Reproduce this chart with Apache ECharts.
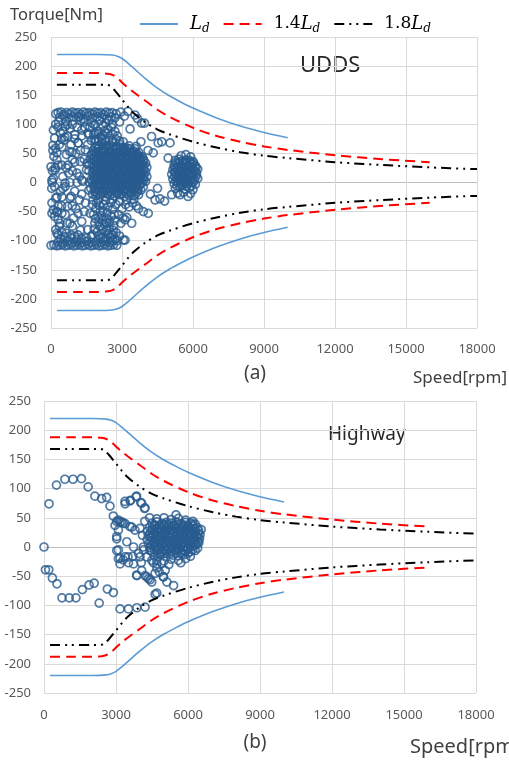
<!DOCTYPE html>
<html>
<head>
<meta charset="utf-8">
<script src="https://cdn.jsdelivr.net/npm/echarts@6/dist/echarts.min.js"></script>
<style>
html,body{margin:0;padding:0;background:#fff;}
#c{width:509px;height:761px;}
</style>
</head>
<body>
<div id="c"></div>
<script>
// ---- tick labels / axes ----
const speedTicks = [0, 3000, 6000, 9000, 12000, 15000, 18000];
const torqueTicks = [-250, -200, -150, -100, -50, 0, 50, 100, 150, 200, 250];

// ---- torque envelope curves ----
const ldSpeed = [250, 1000, 2000, 2600, 2800, 3000, 3250, 3500, 4000, 4500, 5000, 5500, 6000, 7000, 8000, 9000, 10000];
const ldTorque = [220, 220, 220, 219, 217, 213, 205, 196, 178, 162, 149, 138, 128, 111, 97, 86, 77];
const ldTorqueNeg = [-220, -220, -220, -219, -217, -213, -205, -196, -178, -162, -149, -138, -128, -111, -97, -86, -77];

const ld14Speed = [250, 1000, 2000, 2400, 2600, 2800, 3000, 3250, 3500, 4000, 4500, 5000, 6000, 7000, 8000, 9000, 10000, 12000, 14000, 16000];
const ld14Torque = [188, 188, 188, 187, 185, 180, 172, 163, 155, 140, 125, 113, 94, 80, 70, 62, 56, 47, 40, 35];
const ld14TorqueNeg = [-188, -188, -188, -187, -185, -180, -172, -163, -155, -140, -125, -113, -94, -80, -70, -62, -56, -47, -40, -35];

const ld18Speed = [250, 1000, 2000, 2300, 2500, 2700, 3000, 3250, 3500, 4000, 4500, 5000, 6000, 7000, 8000, 9000, 10000, 12000, 14000, 16000, 18000];
const ld18Torque = [168, 168, 168, 168, 166, 158, 143, 130, 119, 103, 91, 83, 70, 60, 52, 46, 42, 35, 30, 26, 23];
const ld18TorqueNeg = [-168, -168, -168, -168, -166, -158, -143, -130, -119, -103, -91, -83, -70, -60, -52, -46, -42, -35, -30, -26, -23];

// ---- UDDS operating points [speed rpm, torque Nm] ----
const uddsPoints = [
 // top band
 [200,118],[300,120],[420,121],[540,117],[660,120],[780,118],[900,121],[1020,119],[1140,120],[1260,117],[1380,121],[1500,119],[1620,120],[1740,118],[1860,121],[1980,119],[2100,120],[2220,117],[2340,121],[2460,119],[2580,120],[2750,118],[2950,121],[3250,122],
 [360,112],[560,114],[760,111],[960,113],[1160,112],[1360,110],[1560,114],[1760,111],[1960,113],[2160,112],[2360,110],[2560,113],
 [320,104],[620,105],[900,100],[1250,106],[1700,103],[2050,106],[2450,107],[2700,111],[2900,104],[3100,114],
 [300,95],[800,93],[1430,95],[1860,99],[590,78],[1010,82],[1560,85],[80,64],[460,61],[1140,68],[250,51],[890,52],[0,27],[170,21],[720,30],[1100,16],[1520,33],[1310,4],[590,-1],[40,4],
 // left scatter
 [150,76],[200,59],[120,45],[250,39],[180,25],[100,7],[50,0],[150,-7],[200,-27],[100,-47],[250,-50],[150,-58],[300,-64],[200,-81],[300,-90],
 [600,96],[700,79],[550,73],[800,53],[650,48],[900,39],[750,16],[600,-7],[850,-24],[700,-41],[950,-61],[800,-70],[650,-87],[1000,-93],
 [1200,113],[1400,105],[1300,90],[1600,82],[1150,68],[1450,56],[1700,48],[1250,36],[1500,22],[1350,2],[1600,-13],[1200,-30],[1450,-35],[1650,-53],[1300,-67],[1550,-81],[1750,-90],[1100,-98],
 [400,85],[350,65],[450,30],[500,10],[400,-15],[450,-40],[350,-75],[1000,75],[1050,50],[900,20],[1100,0],[1000,-15],[1050,-45],[900,-75],[1400,-50],[1500,-95],[1650,95],[1800,100],[1850,85],[1600,30],[1700,5],[1750,-20],[60,20],[30,-10],[80,55],[40,-35],
 [250,-25],[460,-25],[800,-27],[40,-53],[250,-51],[460,-53],[1140,-53],[380,-70],[680,-70],[1140,-90],[250,-87],[590,-93],
 [100,90],[500,88],[700,100],[1100,95],[1300,80],[200,100],[450,75],[850,65],[1250,55],[1550,65],[300,30],[650,25],[1000,35],[1400,40],[1200,10],[800,0],[500,-10],[300,-40],[900,-40],[1300,-20],[600,-55],[1250,-82],[850,-90],[450,-85],
 // bottom band
 [0,-108],[120,-107],[240,-109],[360,-108],[480,-107],[600,-109],[720,-108],[840,-107],[960,-109],[1080,-108],[1200,-107],[1320,-109],[1440,-108],[1560,-107],[1680,-109],[1800,-108],[1920,-107],[2040,-109],[2160,-108],[2280,-107],[2400,-109],[2520,-108],[2640,-107],[2780,-108],
 [300,-102],[500,-103],[700,-101],[900,-103],[1100,-102],[1300,-103],[1500,-101],[1700,-103],[1900,-102],[2100,-103],[2300,-101],[2500,-103],
 [400,-96],[800,-94],[1300,-97],[1700,-93],[2200,-95],[3130,-99],
 // main cluster
 [1800,82],[2000,84],[2200,81],[2400,85],[2600,83],[2800,80],
 [1700,72],[1850,74],[2000,71],[2150,75],[2300,73],[2450,76],[2600,72],[2750,74],[2900,71],[3050,70],
 [1950,63],[2150,66],[2300,70],[2450,64],[2600,68],[2750,62],[2900,66],[3100,60],[3300,63],[3550,58],
 [1800,55],[2000,58],[2150,56],[2300,59],[2450,55],[2600,57],[2750,58],[2900,54],[3050,57],[3200,55],[3350,58],[3500,54],[3700,52],
 [1750,48],[1900,50],[2050,47],[2200,51],[2350,48],[2500,50],[2650,47],[2800,51],[2950,48],[3100,50],[3250,47],[3400,51],[3550,48],[3700,46],[3850,44],
 [1800,41],[1950,43],[2100,40],[2250,42],[2400,41],[2550,43],[2700,40],[2850,42],[3000,41],[3150,43],[3300,40],[3450,42],[3600,41],[3750,39],[3900,40],
 [1750,33],[1900,35],[2050,32],[2200,34],[2350,33],[2500,35],[2650,32],[2800,34],[2950,33],[3100,35],[3250,32],[3400,34],[3550,33],[3700,35],[3850,32],[4000,33],
 [1800,25],[1950,27],[2100,24],[2250,26],[2400,25],[2550,27],[2700,24],[2850,26],[3000,25],[3150,27],[3300,24],[3450,26],[3600,25],[3750,27],[3900,24],[4050,26],
 [1750,17],[1900,19],[2050,16],[2200,18],[2350,17],[2500,19],[2650,16],[2800,18],[2950,17],[3100,19],[3250,16],[3400,18],[3550,17],[3700,19],[3850,16],[4000,18],
 [1800,9],[1950,11],[2100,8],[2250,10],[2400,9],[2550,11],[2700,8],[2850,10],[3000,9],[3150,11],[3300,8],[3450,10],[3600,9],[3750,11],[3900,8],[4050,10],
 [1750,1],[1900,3],[2050,0],[2200,2],[2350,1],[2500,3],[2650,0],[2800,2],[2950,1],[3100,3],[3250,0],[3400,2],[3550,1],[3700,3],[3850,0],[4000,2],
 [1800,-7],[1950,-5],[2100,-8],[2250,-6],[2400,-7],[2550,-5],[2700,-8],[2850,-6],[3000,-7],[3150,-5],[3300,-8],[3450,-6],[3600,-7],[3750,-5],[3900,-8],
 [1850,-15],[2000,-13],[2150,-16],[2300,-14],[2450,-15],[2600,-13],[2750,-16],[2900,-14],[3050,-15],[3200,-13],[3350,-16],[3500,-14],[3650,-15],[3800,-13],
 [1900,-23],[2100,-21],[2300,-24],[2500,-22],[2700,-23],[2900,-21],[3100,-24],[3300,-22],[3500,-23],[3700,-21],
 [2000,-30],[2300,-31],[2600,-29],[2900,-32],[3200,-30],[3500,-29],
 [1900,72],[2100,78],[2250,88],[2400,92],[2550,95],[2700,88],[2200,97],[2600,100],[2300,102],[2000,88],[1600,20],[1650,40],[1620,0],[1680,-10],
 // main cluster, in-between points
 [1875,60],[2025,61],[2175,60],[2325,62],[2475,60],[2625,61],[2775,59],[2925,61],[3075,60],[3225,59],
 [1825,52],[1975,53],[2125,52],[2275,54],[2425,52],[2575,53],[2725,51],[2875,53],[3025,52],[3175,53],[3325,52],[3475,51],[3625,50],
 [1825,45],[1975,44],[2125,46],[2275,45],[2425,44],[2575,46],[2725,45],[2875,44],[3025,46],[3175,45],[3325,44],[3475,46],[3625,45],[3775,43],
 [1825,37],[1975,38],[2125,37],[2275,39],[2425,37],[2575,38],[2725,36],[2875,38],[3025,37],[3175,38],[3325,37],[3475,38],[3625,37],[3775,36],[3925,37],
 [1825,29],[1975,30],[2125,29],[2275,31],[2425,29],[2575,30],[2725,28],[2875,30],[3025,29],[3175,30],[3325,29],[3475,30],[3625,29],[3775,30],[3925,29],
 [1825,21],[1975,22],[2125,21],[2275,20],[2425,22],[2575,21],[2725,20],[2875,22],[3025,21],[3175,20],[3325,22],[3475,21],[3625,20],[3775,22],[3925,21],
 [1825,13],[1975,14],[2125,12],[2275,13],[2425,14],[2575,12],[2725,13],[2875,14],[3025,12],[3175,13],[3325,14],[3475,12],[3625,13],[3775,14],[3925,12],
 [1825,5],[1975,6],[2125,4],[2275,5],[2425,6],[2575,4],[2725,5],[2875,6],[3025,4],[3175,5],[3325,6],[3475,4],[3625,5],[3775,6],[3925,4],
 [1825,-3],[1975,-2],[2125,-4],[2275,-3],[2425,-2],[2575,-4],[2725,-3],[2875,-2],[3025,-4],[3175,-3],[3325,-2],[3475,-4],[3625,-3],[3775,-2],
 [1875,-11],[2025,-10],[2175,-12],[2325,-11],[2475,-10],[2625,-12],[2775,-11],[2925,-10],[3075,-12],[3225,-11],[3375,-10],[3525,-12],[3675,-11],
 [1975,-19],[2175,-18],[2375,-20],[2575,-19],[2775,-18],[2975,-20],[3175,-19],[3375,-18],[3575,-20],
 // tail below main cluster
 [1750,-38],[1900,-45],[2050,-40],[2200,-48],[2400,-42],[2600,-46],[2750,-38],[1800,-55],[2000,-60],[2150,-57],[2350,-62],[2550,-58],[2700,-65],[1850,-70],[2050,-75],[2250,-72],[2450,-78],[2650,-74],[1950,-85],[2150,-88],[2350,-82],[2550,-90],[2750,-86],[2100,-95],[2300,-97],[2500,-95],[2700,-98],[2900,-92],
 [1775,-30],[1925,-35],[2075,-50],[2225,-38],[2375,-52],[2525,-35],[2675,-55],[1875,-62],[2025,-68],[2175,-65],[2325,-70],[2475,-68],[2625,-82],[1825,-80],[2000,-92],[2200,-80],[2400,-88],[2600,-100],[2800,-100],
 [2850,-55],[3000,-45],[3150,-38],[3300,-42],[3450,-35],[3600,-40],[2950,-70],[3200,-60],[3130,-64],[3060,-99],[2630,-90],[3410,-70],[3900,-50],[4110,-53],[3700,-45],[3040,-61],
 // sparse upper right
 [3550,116],[3650,110],[3830,102],[3340,92],[3950,102],[4250,79],[4530,68],[4680,70],[4320,51],[5030,68],[3600,62],[4950,42],[3800,70],[4100,55],
 // sparse between clusters
 [4400,-30],[4600,-28],[4800,-32],[5100,-21],[5450,-21],[5790,-24],[4200,-20],[4500,-10],
 // right cluster
 [5500,46],[5700,48],[5900,44],
 [5250,38],[5400,40],[5550,37],[5700,39],[5850,38],[6000,36],
 [5200,30],[5350,32],[5500,29],[5650,31],[5800,30],[5950,32],[6100,29],
 [5150,22],[5300,24],[5450,21],[5600,23],[5750,22],[5900,24],[6050,21],[6200,23],
 [5100,14],[5250,16],[5400,13],[5550,15],[5700,14],[5850,16],[6000,13],[6150,15],
 [5150,6],[5300,8],[5450,5],[5600,7],[5750,6],[5900,8],[6050,5],[6200,7],
 [5200,-2],[5350,0],[5500,-3],[5650,-1],[5800,-2],[5950,0],[6100,-3],
 [5250,-10],[5450,-8],[5650,-11],[5850,-9],[6000,-12],
 [5350,-18],[5600,-17],[5900,-19],
 [5275,34],[5425,35],[5575,33],[5725,34],[5875,35],[6025,33],
 [5225,26],[5375,27],[5525,25],[5675,26],[5825,27],[5975,25],[6125,26],
 [5225,18],[5375,19],[5525,17],[5675,18],[5825,19],[5975,17],[6125,18],
 [5225,10],[5375,11],[5525,9],[5675,10],[5825,11],[5975,9],[6125,10],
 [5275,2],[5425,3],[5575,1],[5725,2],[5875,3],[6025,1],
 [5325,-6],[5525,-5],[5725,-7],[5925,-6]
];

// ---- Highway operating points [speed rpm, torque Nm] ----
const highwayPoints = [
 [0,0],[210,74],[520,106],[870,116],[1210,116],[1560,117],[1840,103],[2120,87],[2400,83],[2610,85],[2750,70],[2890,53],[3030,44],[3380,74],[3590,79],[3840,86],[4030,76],[4190,66],
 [60,-39],[200,-39],[350,-53],[540,-63],[750,-87],[1050,-87],[1330,-87],[1600,-73],[1880,-65],[2090,-62],[2300,-96],[2640,-72],[2890,-78],[3170,-106],[3520,-106],[3870,-104],[4210,-103],[4630,-81],
 [3030,-6],[3100,-20],[3170,-29],[3380,-17],[3520,-27],[3730,-29],[3870,-49],[4070,-40],[4210,-49],[4350,-54],[4490,-60],[4630,-45],[4810,-43],[4980,-51],[5120,-60],[5400,-66],[4490,-23],[4700,-29],
 [3030,14],[3100,29],[2960,37],[3170,43],[3380,40],[3660,34],[3450,9],[3730,0],[3940,-11],[4140,0],[4280,-17],[4420,-6],
 [3100,46],[3240,43],[3300,41],[3580,35],[3790,29],[4000,32],[3030,18],[3100,-5],[3170,-19],[3300,-22],[3500,-17],[3700,-16],[4000,-17],[3860,-48],[4050,-27],[4280,-51],[4420,-56],[4560,-27],[4700,-36],[4970,-51],[5050,-40],[4700,-79],[3375,78],[3600,80],[3860,87],[4070,75],[4210,67],
 // dense blob
 [4700,48],[5000,50],[5300,47],[5600,49],[5900,46],[6200,44],
 [4500,41],[4700,43],[4900,40],[5100,42],[5300,41],[5500,43],[5700,40],[5900,42],[6100,41],[6300,39],
 [4400,34],[4600,36],[4800,33],[5000,35],[5200,34],[5400,36],[5600,33],[5800,35],[6000,34],[6200,36],[6400,33],
 [4300,27],[4500,29],[4700,26],[4900,28],[5100,27],[5300,29],[5500,26],[5700,28],[5900,27],[6100,29],[6300,26],[6450,28],
 [4350,20],[4550,22],[4750,19],[4950,21],[5150,20],[5350,22],[5550,19],[5750,21],[5950,20],[6150,22],[6350,19],[6500,21],
 [4300,13],[4500,15],[4700,12],[4900,14],[5100,13],[5300,15],[5500,12],[5700,14],[5900,13],[6100,15],[6300,12],[6480,14],
 [4350,6],[4550,8],[4750,5],[4950,7],[5150,6],[5350,8],[5550,5],[5750,7],[5950,6],[6150,8],[6350,5],[6450,7],
 [4400,-1],[4600,1],[4800,-2],[5000,0],[5200,-1],[5400,1],[5600,-2],[5800,0],[6000,-1],[6200,1],[6400,-2],
 [4500,-8],[4700,-6],[4900,-9],[5100,-7],[5300,-8],[5500,-6],[5700,-9],[5900,-7],[6100,-8],[6300,-6],
 [4600,-15],[4850,-13],[5100,-16],[5350,-14],[5600,-15],[5850,-13],[6100,-16],
 [4700,-22],[5000,-24],[5300,-21],[5600,-23],[5900,-20],
 [5500,55],[4400,50],[4200,44],[4100,20],[4150,-5],[6550,30],[5200,-30],[4900,-28],[5700,-27],
 // blob, in-between points
 [4600,38],[4800,37],[5000,39],[5200,38],[5400,37],[5600,39],[5800,38],[6000,37],[6200,39],
 [4500,31],[4700,30],[4900,32],[5100,31],[5300,30],[5500,32],[5700,31],[5900,30],[6100,32],[6300,31],
 [4450,24],[4650,23],[4850,25],[5050,24],[5250,23],[5450,25],[5650,24],[5850,23],[6050,25],[6250,24],[6420,23],
 [4450,17],[4650,16],[4850,18],[5050,17],[5250,16],[5450,18],[5650,17],[5850,16],[6050,18],[6250,17],[6420,16],
 [4450,10],[4650,9],[4850,11],[5050,10],[5250,9],[5450,11],[5650,10],[5850,9],[6050,11],[6250,10],[6420,9],
 [4500,3],[4700,2],[4900,4],[5100,3],[5300,2],[5500,4],[5700,3],[5900,2],[6100,4],[6300,3],
 [4600,-5],[4800,-4],[5000,-5],[5200,-4],[5400,-5],[5600,-4],[5800,-5],[6000,-4],[6200,-5],
 [4750,-12],[5000,-11],[5250,-12],[5500,-11],[5750,-12],[6000,-11]
];

const chartTitles = ['UDDS', 'Highway'];
const panelLabels = ['(a)', '(b)'];

// ---- build ----
const pairs = (xs, ys) => xs.map((x, i) => [x, ys[i]]);
const FONT = 'Noto Sans';
const SCATTER = '#285B8E';
const lineDefs = [
  {name: 'Ld', sp: ldSpeed, pos: ldTorque, neg: ldTorqueNeg, style: {color: '#5B9BD5', width: 1.6, type: 'solid'}},
  {name: '1.4Ld', sp: ld14Speed, pos: ld14Torque, neg: ld14TorqueNeg, style: {color: '#FF0000', width: 2, type: [10, 6]}},
  {name: '1.8Ld', sp: ld18Speed, pos: ld18Torque, neg: ld18TorqueNeg, style: {color: '#000000', width: 2, type: [10, 5, 2, 5, 2, 5]}}
];

const splitColors = torqueTicks.map(t => t === 0 ? '#BFBFBF' : '#D9D9D9');

function xAxisFor(i, margin) {
  return {
    type: 'value', gridIndex: i, min: speedTicks[0], max: speedTicks[speedTicks.length - 1], interval: 3000,
    axisLine: {show: false}, axisTick: {show: false},
    splitLine: {show: true, lineStyle: {color: '#D9D9D9', width: 1}},
    axisLabel: {fontFamily: FONT, fontSize: 13, color: '#595959', margin: margin, formatter: v => String(v)}
  };
}
function yAxisFor(i, margin) {
  return {
    type: 'value', gridIndex: i, min: torqueTicks[0], max: torqueTicks[torqueTicks.length - 1], interval: 50,
    axisLine: {show: false}, axisTick: {show: false},
    splitLine: {show: true, lineStyle: {color: splitColors, width: 1}},
    axisLabel: {fontFamily: FONT, fontSize: 13, color: '#595959', margin: margin, formatter: v => String(v)}
  };
}

const series = [];
[uddsPoints, highwayPoints].forEach((pts, gi) => {
  series.push({
    type: 'scatter', name: chartTitles[gi], xAxisIndex: gi, yAxisIndex: gi, data: pts,
    symbol: 'circle', symbolSize: 8, large: false,
    itemStyle: {color: 'rgba(255,255,255,0)', borderColor: SCATTER, borderWidth: 1.7},
    z: 1
  });
});
[0, 1].forEach(gi => {
  lineDefs.forEach(d => {
    [d.pos, d.neg].forEach(vals => {
      series.push({
        type: 'line', name: d.name, xAxisIndex: gi, yAxisIndex: gi,
        data: pairs(d.sp, vals), symbol: 'none', smooth: 0.3,
        lineStyle: d.style, itemStyle: {color: d.style.color}, z: 3
      });
    });
  });
});

const chart = echarts.init(document.getElementById('c'), null, {renderer: 'canvas'});
chart.setOption({
  animation: false,
  backgroundColor: '#ffffff',
  grid: [
    {left: 51, right: 32, top: 37, bottom: 433},
    {left: 44, right: 33, top: 401, bottom: 68}
  ],
  xAxis: [xAxisFor(0, 15), xAxisFor(1, 16)],
  yAxis: [yAxisFor(0, 14), yAxisFor(1, 13)],
  legend: {
    data: lineDefs.map(d => d.name),
    left: 134, top: 10, itemWidth: 38, itemHeight: 12, itemGap: 13,
    itemStyle: {opacity: 0},
    formatter: n => n === 'Ld' ? '{i|L}{s|d}' : '{n|' + n.replace('Ld', '') + '}{i|L}{s|d}',
    textStyle: {
      padding: [0, 0, 0, 7],
      rich: {
        n: {fontFamily: 'DejaVu Serif', fontSize: 17, color: '#000', lineHeight: 22},
        i: {fontFamily: 'DejaVu Serif', fontStyle: 'italic', fontSize: 18, color: '#000', lineHeight: 22},
        s: {fontFamily: 'DejaVu Serif', fontStyle: 'italic', fontSize: 12, color: '#000', lineHeight: 12, verticalAlign: 'bottom', padding: [6, 0, 0, 0]}
      }
    }
  },
  graphic: [
    {type: 'text', x: 10, y: 15, style: {text: 'Torque[Nm]', fontFamily: FONT, fontSize: 16.5, fill: '#404040', verticalAlign: 'middle'}},
    {type: 'text', x: 300, y: 66, style: {text: chartTitles[0], fontFamily: FONT, fontSize: 22, fill: '#262626', verticalAlign: 'middle'}},
    {type: 'text', x: 328, y: 435, style: {text: chartTitles[1], fontFamily: FONT, fontSize: 19, fill: '#262626', verticalAlign: 'middle'}},
    {type: 'text', x: 255, y: 374, style: {text: panelLabels[0], fontFamily: FONT, fontSize: 19, fill: '#404040', align: 'center', verticalAlign: 'middle'}},
    {type: 'text', x: 255, y: 743, style: {text: panelLabels[1], fontFamily: FONT, fontSize: 19, fill: '#404040', align: 'center', verticalAlign: 'middle'}},
    {type: 'text', x: 413, y: 378, style: {text: 'Speed[rpm]', fontFamily: FONT, fontSize: 17, fill: '#404040', verticalAlign: 'middle'}},
    {type: 'text', x: 410, y: 747, style: {text: 'Speed[rpm]', fontFamily: FONT, fontSize: 20, fill: '#404040', verticalAlign: 'middle'}}
  ],
  series: series
});
</script>
</body>
</html>
